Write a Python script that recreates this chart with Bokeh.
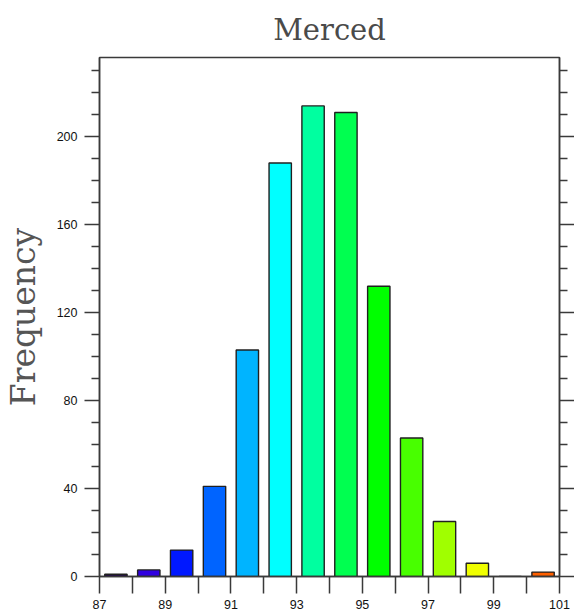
from bokeh.plotting import figure
from bokeh.models import LinearAxis, FixedTicker, Range1d, ColumnDataSource, Title
from bokeh.embed import file_html
from bokeh.resources import INLINE

# Data
bin_centers = [87.5, 88.5, 89.5, 90.5, 91.5, 92.5, 93.5, 94.5, 95.5, 96.5, 97.5, 98.5, 99.5, 100.5]
frequency = [1, 3, 12, 41, 103, 188, 214, 211, 132, 63, 25, 6, 0, 2]
bar_colors = ["#200050", "#3000e0", "#0018ff", "#0064ff", "#00b4ff", "#00ffff", "#00ffa0",
              "#00ff50", "#00ff00", "#48ff00", "#a0ff00", "#f0ff00", "#ffb000", "#ff6000"]
x_major = [87, 89, 91, 93, 95, 97, 99, 101]
x_minor = [88, 90, 92, 94, 96, 98, 100]
y_major = [0, 40, 80, 120, 160, 200]
y_minor = [10, 20, 30, 50, 60, 70, 90, 100, 110, 130, 140, 150, 170, 180, 190, 210, 220, 230]
title_text = "Merced"
y_label = "Frequency"

src = ColumnDataSource(dict(x=bin_centers, top=frequency, color=bar_colors))

p = figure(width=574, height=616, output_backend="svg", toolbar_location=None,
           x_range=Range1d(87, 101), y_range=Range1d(0, 236),
           x_axis_location=None, y_axis_location=None,
           min_border_left=97, min_border_right=15, min_border_top=57, min_border_bottom=40)
p.background_fill_color = "white"
p.border_fill_color = "white"
p.grid.visible = False
p.outline_line_color = "#3a3a3a"
p.outline_line_width = 1.5

t = Title(text=title_text, align="center", text_font="DejaVu Serif",
          text_font_size="29px", text_font_style="normal", text_color="#4a4a4a", standoff=21)
p.add_layout(t, "above")

p.vbar(x="x", top="top", width=0.68, bottom=0, source=src, fill_color="color",
       line_color="#202020", line_width=1.4)

axis_style = dict(axis_line_color="#3a3a3a", axis_line_width=1.5,
                  major_tick_line_color="#3a3a3a", major_tick_line_width=1.5,
                  minor_tick_line_color="#3a3a3a", minor_tick_line_width=1.5,
                  major_tick_in=0, minor_tick_in=0,
                  major_label_text_font="Liberation Sans", major_label_text_font_size="12.5px",
                  major_label_text_color="#111111")

yl = LinearAxis(ticker=FixedTicker(ticks=y_major, minor_ticks=y_minor), axis_label=y_label,
                axis_label_text_font="DejaVu Serif", axis_label_text_font_size="33px",
                axis_label_text_font_style="normal", axis_label_text_color="#555555",
                axis_label_standoff=11, major_tick_out=15, minor_tick_out=8,
                major_label_standoff=7, **axis_style)
p.add_layout(yl, "left")

yr = LinearAxis(ticker=FixedTicker(ticks=y_major, minor_ticks=y_minor),
                major_tick_out=15, minor_tick_out=8, major_label_standoff=0,
                major_label_overrides={v: "" for v in y_major}, **axis_style)
yr.major_label_text_font_size = "0px"
p.add_layout(yr, "right")

xb = LinearAxis(ticker=FixedTicker(ticks=x_major, minor_ticks=x_minor),
                major_tick_out=17, minor_tick_out=17, major_label_standoff=6, **axis_style)
p.add_layout(xb, "below")

open("out.html", "w").write(file_html(p, INLINE))
